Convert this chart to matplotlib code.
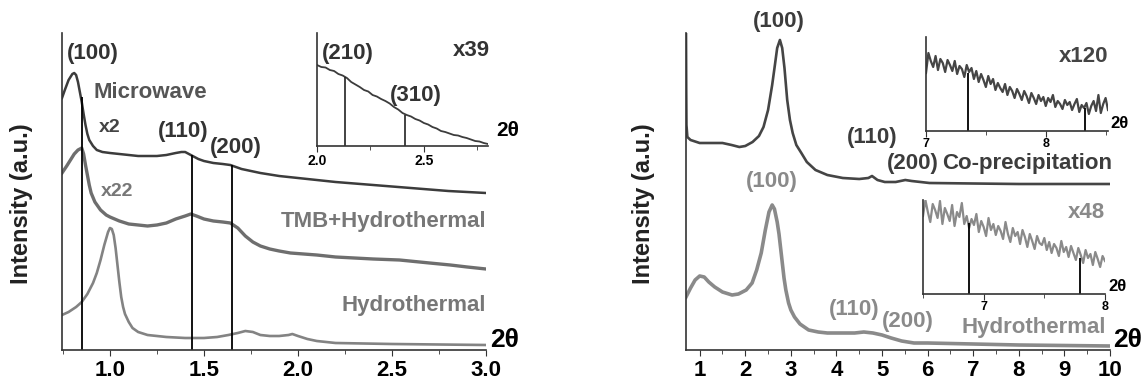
import numpy as np
import matplotlib.pyplot as plt
from matplotlib.ticker import MultipleLocator

plt.rcParams['font.family'] = ['Liberation Sans', 'DejaVu Sans']
plt.rcParams['font.weight'] = 'bold'

# ---- left panel: low angle patterns ----
mw_x = [0.745, 0.76, 0.78, 0.80, 0.81, 0.82, 0.83, 0.84, 0.85, 0.86, 0.87, 0.88, 0.89, 0.91,
        0.93, 0.96, 1.00, 1.05, 1.10, 1.15, 1.20, 1.25, 1.30, 1.35, 1.38, 1.40, 1.42, 1.44,
        1.47, 1.50, 1.55, 1.60, 1.64, 1.67, 1.70, 1.75, 1.80, 1.90, 2.00, 2.20, 2.40, 2.60,
        2.80, 3.00]
mw_y = [252, 260, 270, 276, 277, 275, 268, 258, 248, 236, 225, 216, 210, 204,
        200, 198, 197, 196, 195, 194, 194, 194, 195, 197, 198, 198, 196, 194,
        191, 189, 187, 186, 185, 183, 181, 179, 177, 174, 172, 168, 165, 162,
        159, 157]

tmb_x = [0.745, 0.77, 0.79, 0.81, 0.83, 0.85, 0.86, 0.87, 0.88, 0.89, 0.90, 0.92, 0.95, 0.98,
         1.00, 1.05, 1.10, 1.15, 1.20, 1.25, 1.30, 1.35, 1.40, 1.43, 1.46, 1.50, 1.55, 1.60,
         1.64, 1.68, 1.72, 1.76, 1.80, 1.85, 1.90, 1.96, 2.10, 2.20, 2.40, 2.54, 2.70, 2.81,
         2.90, 3.00]
tmb_y = [177, 184, 190, 196, 200, 202, 196, 185, 175, 165, 157, 148, 140, 135,
         133, 129, 126, 125, 124, 125, 127, 131, 134, 136, 134, 131, 129, 128,
         127, 122, 114, 108, 104, 101, 99, 97, 95, 93, 91, 90, 87, 85,
         83, 81]

hyd_x = [0.745, 0.78, 0.82, 0.85, 0.88, 0.91, 0.93, 0.95, 0.97, 0.99, 1.00, 1.01, 1.02, 1.03,
         1.04, 1.05, 1.06, 1.07, 1.08, 1.10, 1.12, 1.15, 1.20, 1.30, 1.40, 1.50, 1.57, 1.63,
         1.68, 1.72, 1.76, 1.80, 1.85, 1.90, 1.95, 1.97, 2.00, 2.05, 2.10, 2.20, 2.50, 3.00]
hyd_y = [35, 38, 43, 48, 56, 67, 77, 90, 105, 118, 122, 121, 115, 102,
         85, 68, 53, 43, 36, 28, 22, 18, 15, 13, 12, 12, 13, 15,
         17, 19, 18, 15, 14, 14, 15, 16, 14, 11, 9, 7, 6, 5]

left_lines = [0.85, 1.435, 1.647]
left_line_tops = [253, 195, 185]

# inset of the microwave sample, 2.0-2.8
ins1_x = np.arange(2.0, 2.801, 0.02)
ins1_y = [81, 79, 78.5, 76, 75, 72, 70.5, 68, 64, 61.5, 59, 56, 54.5, 51, 49.5, 47, 45, 42.5, 39, 36.5,
          33, 31, 29.5, 27, 25.5, 23, 21.5, 19, 17.5, 15, 14, 12.5, 11, 10.5, 9, 8, 6.5, 5, 4.5, 3, 2]
ins1_lines = [2.13, 2.41]
ins1_line_tops = [69, 31]

# ---- right panel ----
cop_x = [0.70, 0.705, 0.71, 0.73, 0.80, 1.00, 1.30, 1.50, 1.70, 1.87, 2.00, 2.16, 2.30, 2.40,
         2.50, 2.59, 2.65, 2.70, 2.76, 2.81, 2.86, 2.92, 2.98, 3.04, 3.12, 3.23, 3.35, 3.54,
         3.80, 4.14, 4.50, 4.70, 4.78, 4.90, 5.06, 5.30, 5.51, 5.65, 6.04, 7.0, 8.0, 10.0]
cop_y = [317, 260, 225, 213, 210, 207, 207, 207, 205, 203, 204, 208, 214, 223,
         240, 265, 285, 302, 310, 302, 282, 250, 230, 217, 205, 197, 188, 180,
         175, 172, 171, 172, 174, 170, 168, 168, 170, 169, 167, 166.5, 166, 166]

rhy_x = [0.70, 0.80, 0.90, 1.00, 1.10, 1.20, 1.33, 1.50, 1.71, 1.85, 2.02, 2.15, 2.25, 2.35,
         2.44, 2.52, 2.59, 2.64, 2.70, 2.74, 2.80, 2.85, 2.89, 2.95, 3.00, 3.08, 3.20, 3.39,
         3.60, 3.80, 4.10, 4.40, 4.60, 4.80, 5.00, 5.20, 5.43, 5.70, 6.00, 8.0, 10.0]
rhy_y = [53, 62, 70, 74, 73, 68, 63, 58, 55, 56, 60, 67, 80, 97,
         120, 138, 145, 141, 128, 116, 92, 72, 60, 47, 40, 33, 26, 20,
         18, 17, 17, 17, 18, 17, 15, 12, 9, 7, 7, 5, 4]

# inset x120 (co-precipitation), 7.0-8.52
ins2_x = np.arange(7.0, 8.521, 0.02)
ins2_y = [58, 78, 70, 64, 75, 61, 72, 68, 59, 71,
          66, 60, 70, 57, 65, 62, 54, 66, 59, 63,
          52, 60, 49, 57, 51, 44, 55, 47, 52, 41,
          48, 43, 39, 47, 36, 44, 40, 33, 42, 37,
          31, 40, 35, 28, 38, 33, 27, 36, 30, 34,
          25, 33, 29, 36, 24, 30, 27, 22, 31, 26,
          29, 21, 27, 32, 19, 26, 23, 28, 17, 25,
          30, 20, 36, 18, 27, 33, 21]
ins2_lines = [7.35, 8.33]
ins2_line_tops = [58, 23]

# inset x48 (hydrothermal), 6.5-8.0
ins3_x = np.arange(6.5, 8.001, 0.02)
ins3_y = [78, 94, 82, 72, 90, 84, 76, 93, 70, 86,
          80, 73, 89, 68, 82, 77, 91, 70, 78, 66,
          75, 69, 80, 62, 73, 67, 58, 76, 64, 70,
          59, 68, 63, 55, 72, 60, 52, 66, 58, 62,
          50, 64, 57, 47, 60, 53, 45, 58, 51, 49,
          56, 44, 52, 41, 50, 46, 38, 53, 42, 47,
          37, 48, 41, 34, 46, 39, 31, 44, 36, 40,
          29, 42, 35, 27, 38, 33]
ins3_lines = [6.88, 7.79]
ins3_line_tops = [71, 36]

W, H = 1143, 381
fig = plt.figure(figsize=(W / 100, H / 100), dpi=100)

def box(x0, y0, x1, y1):
    # pixel box -> figure fraction
    return [x0 / W, 1 - y1 / H, (x1 - x0) / W, (y1 - y0) / H]

def style(ax, size, pad):
    for s in ['top', 'right']:
        ax.spines[s].set_visible(False)
    ax.spines['left'].set_color('#333333')
    ax.spines['bottom'].set_color('#333333')
    ax.spines['left'].set_linewidth(1.2)
    ax.spines['bottom'].set_linewidth(1.2)
    ax.set_yticks([])
    ax.tick_params(axis='x', which='both', direction='out', color='#333333',
                   labelsize=size, pad=pad)
    ax.tick_params(axis='x', which='major', length=4)
    ax.tick_params(axis='x', which='minor', length=3)

dark = '#3c3c3c'
mid = '#6e6e6e'
light = '#838383'
fs = 16

# left main
ax1 = fig.add_axes(box(62, 33, 486, 350))
ax1.plot(mw_x, mw_y, color=dark, lw=1.8)
ax1.plot(tmb_x, tmb_y, color=mid, lw=2.4)
ax1.plot(hyd_x, hyd_y, color=light, lw=1.9)
ax1.vlines(left_lines, 0, left_line_tops, color='black', lw=1.3)
ax1.set_xlim(0.745, 3.0)
ax1.set_ylim(0, 317)
ax1.xaxis.set_major_locator(MultipleLocator(0.5))
ax1.xaxis.set_minor_locator(MultipleLocator(0.25))
style(ax1, 16, 3)
ax1.set_ylabel('Intensity (a.u.)', fontsize=17, fontweight='bold', color='#222222')
ax1.yaxis.set_label_coords(-0.068, 0.46)
ax1.text(0.91, 297, '(100)', ha='center', va='center', fontsize=fs, color='#333333')
ax1.text(0.91, 257, 'Microwave', ha='left', va='center', fontsize=fs, color='#555555')
ax1.text(0.94, 222, 'x2', ha='left', va='center', fontsize=14, color='#444444')
ax1.text(1.39, 218, '(110)', ha='center', va='center', fontsize=fs, color='#333333')
ax1.text(1.67, 203, '(200)', ha='center', va='center', fontsize=fs, color='#333333')
ax1.text(0.95, 158, 'x22', ha='left', va='center', fontsize=14, color='#777777')
ax1.text(3.0, 128, 'TMB+Hydrothermal', ha='right', va='center', fontsize=fs, color='#777777')
ax1.text(3.0, 45, 'Hydrothermal', ha='right', va='center', fontsize=fs, color='#777777')
ax1.text(3.02, 10, '2θ', ha='left', va='center', fontsize=19, color='black', clip_on=False)

# left inset
ax2 = fig.add_axes(box(317, 33, 488, 146))
ax2.plot(ins1_x, ins1_y, color=dark, lw=1.3)
ax2.vlines(ins1_lines, 0, ins1_line_tops, color='#222222', lw=1.2)
ax2.set_xlim(2.0, 2.8)
ax2.set_ylim(0, 113)
ax2.xaxis.set_major_locator(MultipleLocator(0.5))
ax2.xaxis.set_minor_locator(MultipleLocator(0.25))
style(ax2, 10, 2)
ax2.patch.set_alpha(0)
ax2.text(2.145, 93, '(210)', ha='center', va='center', fontsize=fs, color='#333333')
ax2.text(2.46, 51, '(310)', ha='center', va='center', fontsize=fs, color='#333333')
ax2.text(2.81, 96, 'x39', ha='right', va='center', fontsize=fs, color='#333333')
ax2.text(2.84, 15, '2θ', ha='left', va='center', fontsize=15, color='black', clip_on=False)

# right main
ax3 = fig.add_axes(box(686, 33, 1110, 350))
ax3.plot(cop_x, cop_y, color='#454545', lw=1.9)
ax3.plot(rhy_x, rhy_y, color='#8a8a8a', lw=2.6)
ax3.set_xlim(0.70, 10)
ax3.set_ylim(0, 317)
ax3.xaxis.set_major_locator(MultipleLocator(1))
ax3.xaxis.set_minor_locator(MultipleLocator(0.5))
style(ax3, 16, 3)
ax3.set_ylabel('Intensity (a.u.)', fontsize=17, fontweight='bold', color='#222222')
ax3.yaxis.set_label_coords(-0.073, 0.46)
ax3.text(2.73, 328, '(100)', ha='center', va='center', fontsize=fs, color='#3c3c3c', clip_on=False)
ax3.text(4.79, 212, '(110)', ha='center', va='center', fontsize=fs, color='#3c3c3c')
ax3.text(5.67, 187, '(200)', ha='center', va='center', fontsize=fs, color='#3c3c3c')
ax3.text(6.31, 187, 'Co-precipitation', ha='left', va='center', fontsize=fs, color='#3c3c3c',
         clip_on=False)
ax3.text(2.58, 168, '(100)', ha='center', va='center', fontsize=fs, color='#8a8a8a')
ax3.text(4.38, 40, '(110)', ha='center', va='center', fontsize=fs, color='#8a8a8a')
ax3.text(5.56, 28, '(200)', ha='center', va='center', fontsize=fs, color='#8a8a8a')
ax3.text(9.91, 23, 'Hydrothermal', ha='right', va='center', fontsize=fs, color='#8a8a8a')
ax3.text(10.06, 10, '2θ', ha='left', va='center', fontsize=19, color='black', clip_on=False)

# right top inset
ax4 = fig.add_axes(box(926, 37, 1108, 131))
ax4.plot(ins2_x, ins2_y, color='#454545', lw=1.6)
ax4.vlines(ins2_lines, 0, ins2_line_tops, color='black', lw=1.3)
ax4.set_xlim(7.0, 8.52)
ax4.set_ylim(0, 94)
ax4.xaxis.set_major_locator(MultipleLocator(1))
ax4.xaxis.set_minor_locator(MultipleLocator(0.5))
style(ax4, 9, 1)
ax4.patch.set_alpha(0)
ax4.text(8.52, 74, 'x120', ha='right', va='center', fontsize=fs, color='#444444')
ax4.text(8.54, 0, '2θ', ha='left', va='bottom', fontsize=12, color='black', clip_on=False)

# right bottom inset
ax5 = fig.add_axes(box(923, 200, 1105, 294))
ax5.plot(ins3_x, ins3_y, color='#8a8a8a', lw=1.6)
ax5.vlines(ins3_lines, 0, ins3_line_tops, color='black', lw=1.3)
ax5.set_xlim(6.5, 8.0)
ax5.set_ylim(0, 94)
ax5.xaxis.set_major_locator(MultipleLocator(1))
ax5.xaxis.set_minor_locator(MultipleLocator(0.5))
style(ax5, 9, 1)
ax5.patch.set_alpha(0)
ax5.text(8.0, 82, 'x48', ha='right', va='center', fontsize=fs, color='#8a8a8a')
ax5.text(8.03, 0, '2θ', ha='left', va='bottom', fontsize=12, color='black', clip_on=False)

fig.savefig('out.png', dpi=100)
